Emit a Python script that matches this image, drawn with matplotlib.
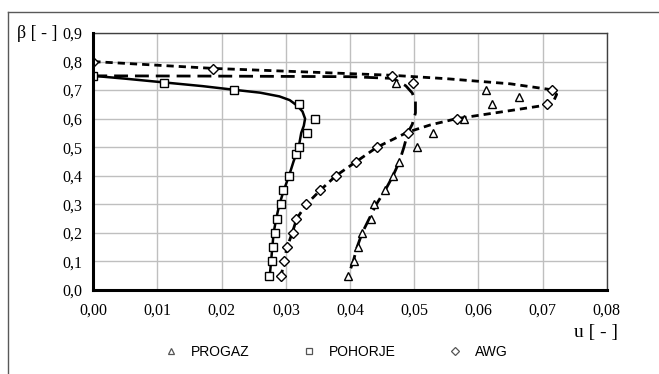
import matplotlib
matplotlib.use("Agg")
import matplotlib.pyplot as plt
from matplotlib.lines import Line2D

# ---- data ----
progaz_b = [0.05, 0.10, 0.15, 0.20, 0.25, 0.30, 0.35, 0.40, 0.45, 0.50, 0.55, 0.60, 0.65, 0.675, 0.70, 0.725]
progaz_u = [0.0397, 0.0406, 0.0412, 0.0419, 0.0432, 0.0438, 0.0455, 0.0467, 0.0477, 0.0505, 0.0530, 0.0578, 0.0622, 0.0664, 0.0612, 0.0471]

pohorje_b = [0.05, 0.10, 0.15, 0.20, 0.25, 0.30, 0.35, 0.40, 0.475, 0.50, 0.55, 0.60, 0.65, 0.70, 0.725, 0.75]
pohorje_u = [0.0274, 0.0278, 0.0280, 0.0283, 0.0287, 0.0292, 0.0296, 0.0305, 0.0316, 0.0321, 0.0333, 0.0346, 0.0320, 0.0219, 0.0110, 0.0]

awg_b = [0.05, 0.10, 0.15, 0.20, 0.25, 0.30, 0.35, 0.40, 0.45, 0.50, 0.55, 0.60, 0.65, 0.70, 0.725, 0.75, 0.775, 0.80]
awg_u = [0.0293, 0.0297, 0.0302, 0.0311, 0.0316, 0.0332, 0.0354, 0.0378, 0.0410, 0.0442, 0.0490, 0.0566, 0.0707, 0.0715, 0.0498, 0.0465, 0.0187, 0.0]

# trend curves
pohorje_fit_u = [0.0, 0.005, 0.011, 0.017, 0.022, 0.026, 0.029, 0.0306, 0.0318, 0.0326, 0.0330, 0.0328, 0.0324, 0.0320, 0.0312,
                 0.0305, 0.0297, 0.0290, 0.0285, 0.0281, 0.0279, 0.0277, 0.0275]
pohorje_fit_b = [0.750, 0.740, 0.727, 0.714, 0.701, 0.691, 0.678, 0.665, 0.645, 0.625, 0.600, 0.575, 0.550, 0.500, 0.450,
                 0.400, 0.350, 0.300, 0.250, 0.200, 0.150, 0.100, 0.050]

progaz_fit_u = [0.0, 0.020, 0.040, 0.0467, 0.0487, 0.0497, 0.0502, 0.0502, 0.0497, 0.0490, 0.0484, 0.0477, 0.0467, 0.0455,
                0.0441, 0.0430, 0.0419, 0.0411, 0.0405, 0.0397]
progaz_fit_b = [0.750, 0.749, 0.747, 0.741, 0.715, 0.690, 0.660, 0.620, 0.580, 0.550, 0.500, 0.450, 0.400, 0.350,
                0.300, 0.250, 0.200, 0.150, 0.100, 0.050]

awg_fit_u = [0.0, 0.0187, 0.035, 0.0465, 0.055, 0.065, 0.0712, 0.0722, 0.0718, 0.0707, 0.0640, 0.0566, 0.0525, 0.0490,
             0.0442, 0.0410, 0.0378, 0.0354, 0.0332, 0.0317, 0.0310, 0.0302, 0.0297, 0.0293]
awg_fit_b = [0.800, 0.776, 0.762, 0.752, 0.740, 0.722, 0.702, 0.685, 0.665, 0.648, 0.625, 0.600, 0.578, 0.553,
             0.500, 0.450, 0.400, 0.350, 0.300, 0.250, 0.200, 0.150, 0.100, 0.050]

xticks = [0.00, 0.01, 0.02, 0.03, 0.04, 0.05, 0.06, 0.07, 0.08]
yticks = [0.0, 0.1, 0.2, 0.3, 0.4, 0.5, 0.6, 0.7, 0.8, 0.9]
xtick_labels = ["0,00", "0,01", "0,02", "0,03", "0,04", "0,05", "0,06", "0,07", "0,08"]
ytick_labels = ["0,0", "0,1", "0,2", "0,3", "0,4", "0,5", "0,6", "0,7", "0,8", "0,9"]

serif = ["Liberation Serif", "DejaVu Serif"]
sans = ["Liberation Sans", "DejaVu Sans"]

fig = plt.figure(figsize=(6.59, 3.74), dpi=100)
ax = fig.add_axes([93.3 / 659, 1 - 290 / 374, (606.7 - 93.3) / 659, (290 - 33) / 374])

ax.set_xlim(0, 0.08)
ax.set_ylim(0, 0.9)
ax.set_xticks(xticks)
ax.set_yticks(yticks)
ax.set_xticklabels(xtick_labels, fontfamily=serif, fontsize=11.5)
ax.set_yticklabels(ytick_labels, fontfamily=serif, fontsize=11.5)
ax.tick_params(length=0)
ax.tick_params(axis="y", pad=8)
ax.tick_params(axis="x", pad=9)
ax.grid(True, color="#bfbfbf", linewidth=1.0)
ax.set_axisbelow(True)

for s in ["left", "bottom"]:
    ax.spines[s].set_linewidth(2.2)
    ax.spines[s].set_color("black")
    ax.spines[s].set_zorder(5)
for s in ["top", "right"]:
    ax.spines[s].set_linewidth(1.0)
    ax.spines[s].set_color("#404040")

# trend lines
ax.plot(pohorje_fit_u, pohorje_fit_b, color="black", linewidth=1.8, zorder=2)
ax.plot(progaz_fit_u, progaz_fit_b, color="black", linewidth=2.0, dashes=(5, 2.5), zorder=2)
ax.plot(awg_fit_u, awg_fit_b, color="black", linewidth=2.0, dashes=(2.6, 1.8), zorder=2)

mk = dict(linestyle="none", markerfacecolor="white", markeredgecolor="black", markeredgewidth=1.0, zorder=3)
ax.plot(progaz_u, progaz_b, marker="^", markersize=5.5, **mk)
ax.plot(pohorje_u, pohorje_b, marker="s", markersize=5.5, **mk)
ax.plot(awg_u, awg_b, marker="D", markersize=5.2, **mk)

# axis labels
fig.text(17 / 659, 1 - 33 / 374, "β [ - ]", fontfamily=serif, fontsize=13, ha="left", va="center")
fig.text(618 / 659, 1 - 332 / 374, "u [ - ]", fontfamily=serif, fontsize=14, ha="right", va="center")

# legend
lmk = dict(linestyle="none", markerfacecolor="white", markeredgecolor="#555555", markeredgewidth=0.9)
handles = [Line2D([], [], marker="^", markersize=5, **lmk),
           Line2D([], [], marker="s", markersize=5, **lmk),
           Line2D([], [], marker="D", markersize=4.5, **lmk)]
fig.legend(handles, ["PROGAZ", "POHORJE", "AWG"], loc="center", bbox_to_anchor=(336 / 659, 1 - 352 / 374),
           ncol=3, frameon=False, prop={"family": sans, "size": 10}, handletextpad=0.9, columnspacing=3.8,
           handlelength=1.0)

# figure border (top and left)
fig.add_artist(Line2D([8 / 659, 1], [1 - 12 / 374, 1 - 12 / 374], transform=fig.transFigure, color="#595959", linewidth=1.0))
fig.add_artist(Line2D([8 / 659, 8 / 659], [0, 1 - 12 / 374], transform=fig.transFigure, color="#595959", linewidth=1.0))

fig.savefig("out.png", dpi=100)
